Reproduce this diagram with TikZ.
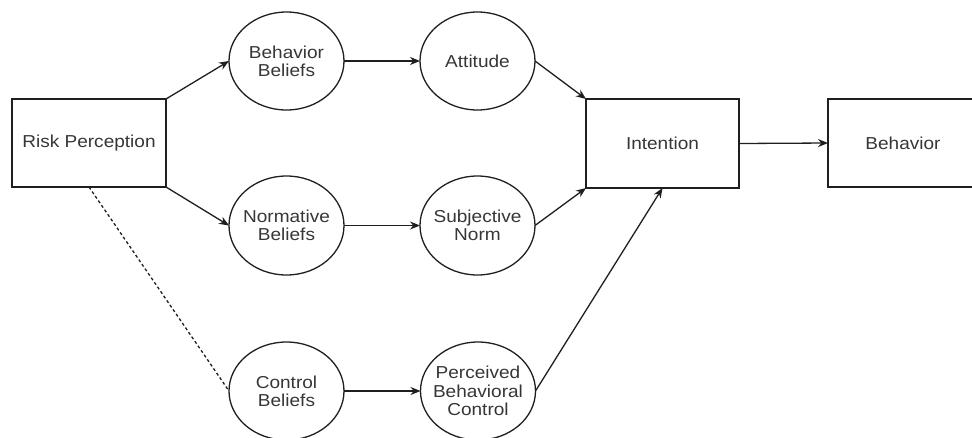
\documentclass[tikz,border=0pt]{standalone}
\usepackage{fontspec}
\setmainfont{Liberation Sans}[FakeStretch=1.1]
\usetikzlibrary{arrows.meta,shapes.geometric}
\definecolor{linec}{HTML}{1F1F1F}
\definecolor{textc}{HTML}{363636}
\tikzset{
  every picture/.style={x=1pt,y=-1pt},
  box/.style={draw=linec,line width=1.3pt,rectangle,inner sep=0pt,outer sep=0pt,
    minimum width=154pt,minimum height=88pt,text=textc,
    font=\fontsize{17.3}{18.3}\selectfont},
  oval/.style={draw=linec,line width=1.3pt,ellipse,inner sep=0pt,outer sep=0pt,
    minimum width=115pt,minimum height=98pt},
  ovtext/.style={text=textc,align=center,font=\fontsize{17.3}{18.3}\selectfont,inner sep=0pt},
  arr/.style={draw=linec,line width=1.3pt,-{Stealth[length=10pt,width=8pt]}},
  dashline/.style={draw=linec,line width=1.3pt,dash pattern=on 3pt off 2.5pt}
}
\begin{document}
\begin{tikzpicture}
\useasboundingbox (0,0) rectangle (972,437);
\clip (0,0) rectangle (972,437);
\node[box] (risk) at (89,143) {Risk Perception};
\node[box,minimum width=153pt,minimum height=89pt] (int) at (662.5,143.5) {Intention};
\node[box,minimum width=150pt] (beh) at (903,143) {Behavior};
\node[oval,label={[ovtext]center:Behavior\\Beliefs}] (bb) at (286.5,61) {};
\node[oval,label={[ovtext]center:Attitude}] (att) at (477.5,61) {};
\node[oval,minimum height=99pt,label={[ovtext]center:Normative\\Beliefs}] (nb) at (286.5,225.5) {};
\node[oval,minimum height=99pt,label={[ovtext]center:Subjective\\Norm}] (sn) at (477.5,225.5) {};
\node[oval,label={[ovtext]center:Control\\Beliefs}] (cb) at (286.5,391) {};
\node[oval,label={[ovtext]center:Perceived\\Behavioral\\Control}] (pbc) at (478,391) {};
\draw[arr] (risk.north east) -- (bb.west);
\draw[arr] (risk.south east) -- (nb.west);
\draw[dashline] (risk.south) -- (cb.west);
\draw[arr] (bb.east) -- (att.west);
\draw[arr] (nb.east) -- (sn.west);
\draw[arr] (cb.east) -- (pbc.west);
\draw[arr] (att.east) -- (int.north west);
\draw[arr] (sn.east) -- (int.south west);
\draw[arr] (pbc.east) -- (int.south);
\draw[arr] (int.east) -- (beh.west);
\end{tikzpicture}
\end{document}
